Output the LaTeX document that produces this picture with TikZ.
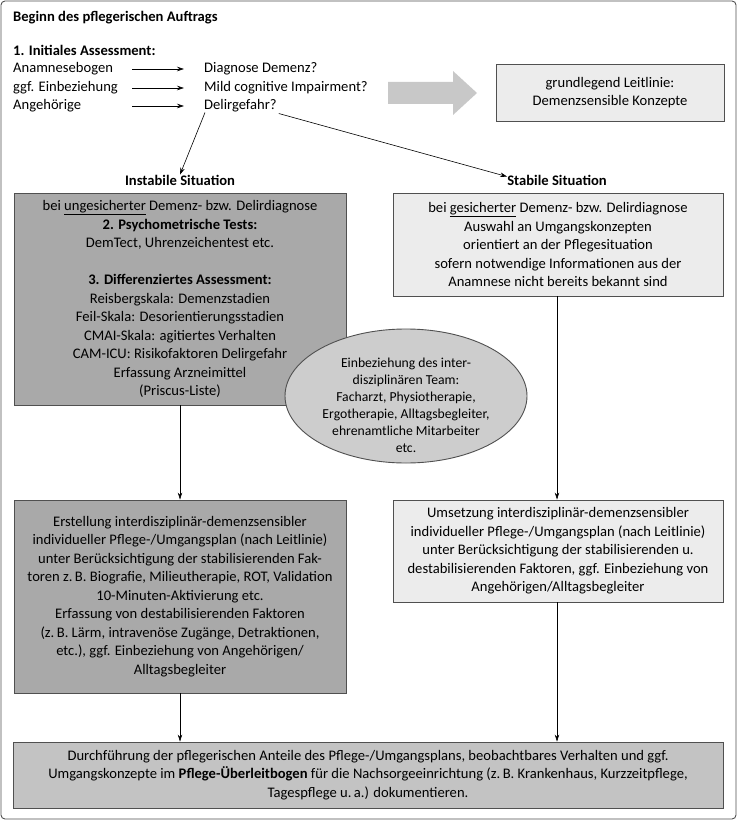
\documentclass[tikz,border=0pt]{standalone}
\usepackage{fontspec}
\setmainfont{Carlito}
\usetikzlibrary{arrows.meta,shapes.geometric,calc}
\definecolor{darkbox}{HTML}{A9A9A9}
\definecolor{lightbox}{HTML}{ECECEC}
\definecolor{ellfill}{HTML}{CDCDCD}
\definecolor{botfill}{HTML}{C3C3C3}
\definecolor{bigarrow}{HTML}{C8C8C8}
\definecolor{edge}{HTML}{505050}
\begin{document}
\begin{tikzpicture}[x=1pt,y=-1pt,
  every node/.style={font=\fontsize{14.6}{18.5}\selectfont},
  lbl/.style={anchor=west,inner sep=0pt},
  box/.style={draw=edge,line width=0.9pt,align=center,inner sep=0pt},
  arr/.style={-{Stealth[length=7pt,width=4.5pt]},line width=0.6pt},
  heading/.style={inner sep=0pt,font=\fontsize{14.6}{18.5}\selectfont\bfseries}]
\useasboundingbox (0,0) rectangle (738,821);
\draw[draw=edge,line width=0.9pt,rounded corners=4pt] (1,1) rectangle (736,819);

\node[lbl,font=\fontsize{14.6}{18.5}\selectfont\bfseries] (title) at (13,18) {Beginn des pflegerischen Auftrags};
\node[lbl,font=\fontsize{14.6}{18.5}\selectfont\bfseries] (ia) at (13,50) {1. Initiales Assessment:};
\node[lbl] (a1) at (13,69) {Anamnesebogen};
\node[lbl] (a2) at (13,88) {ggf. Einbeziehung};
\node[lbl] (a3) at (13,106) {Angehörige};
\node[lbl] (d1) at (204,69) {Diagnose Demenz?};
\node[lbl] (d2) at (204,88) {Mild cognitive Impairment?};
\node[lbl] (d3) at (204,106) {Delirgefahr?};
\coordinate (xa) at (132,0);
\coordinate (xb) at (184,0);
\foreach \i in {1,2,3}{\draw[arr] (a\i -| xa) -- (a\i -| xb);}

\fill[bigarrow] (388,82) -- (453,82) -- (453,71) -- (477,93) -- (453,115) -- (453,104) -- (388,104) -- cycle;
\node[box,fill=lightbox,minimum width=228,minimum height=57] (leit) at (610,92.5) {grundlegend Leitlinie:\\Demenzsensible Konzepte};

\node[heading] (inst) at (180,180) {Instabile Situation};
\node[heading] (stab) at (557,180) {Stabile Situation};
\draw[arr] ($(d3.south west)+(1,0)$) -- (inst.north);
\draw[arr] ($(d3.south east)+(2,1)$) -- ([yshift=-2pt]stab.north west);

\node[box,fill=darkbox,minimum width=332,minimum height=212] (lb1) at (180,299)
 {bei \underline{ungesicherter} Demenz- bzw. Delirdiagnose\\
  \textbf{2. Psychometrische Tests:}\\
  DemTect, Uhrenzeichentest etc.\\ ~\\
  \textbf{3. Differenziertes Assessment:}\\
  Reisbergskala: Demenzstadien\\
  Feil-Skala: Desorientierungsstadien\\
  CMAI-Skala: agitiertes Verhalten\\
  CAM-ICU: Risikofaktoren Delirgefahr\\
  Erfassung Arzneimittel\\
  (Priscus-Liste)};

\node[box,fill=lightbox,minimum width=330,minimum height=103] (rb1) at (558,244.5)
 {bei \underline{gesicherter} Demenz- bzw. Delirdiagnose\\
  Auswahl an Umgangskonzepten\\
  orientiert an der Pflegesituation\\
  sofern notwendige Informationen aus der\\
  Anamnese nicht bereits bekannt sind};

\node[box,fill=darkbox,minimum width=332,minimum height=193] (lb2) at (180,596.5)
 {Erstellung interdisziplinär-demenzsensibler\\
  individueller Pflege-/Umgangsplan (nach Leitlinie)\\
  unter Berücksichtigung der stabilisierenden Fak-\\
  toren z.\,B. Biografie, Milieutherapie, ROT, Validation\\
  10-Minuten-Aktivierung etc.\\
  Erfassung von destabilisierenden Faktoren\\
  (z.\,B. Lärm, intravenöse Zugänge, Detraktionen,\\
  etc.), ggf. Einbeziehung von Angehörigen/\\
  Alltagsbegleiter};

\node[box,fill=lightbox,minimum width=330,minimum height=102] (rb2) at (558,551)
 {Umsetzung interdisziplinär-demenzsensibler\\
  individueller Pflege-/Umgangsplan (nach Leitlinie)\\
  unter Berücksichtigung der stabilisierenden u.\\
  destabilisierenden Faktoren, ggf. Einbeziehung von\\
  Angehörigen/Alltagsbegleiter};

\node[box,fill=botfill,minimum width=710,minimum height=66] (bot) at (368,775)
 {Durchführung der pflegerischen Anteile des Pflege-/Umgangsplans, beobachtbares Verhalten und ggf.\\
  Umgangskonzepte im \textbf{Pflege-Überleitbogen} für die Nachsorgeeinrichtung (z.\,B. Krankenhaus, Kurzzeitpflege,\\
  Tagespflege u.\,a.) dokumentieren.};

\draw[arr] (lb1.south) -- (lb2.north);
\draw[arr] (rb1.south -| stab) -- (rb2.north -| stab);
\draw[arr] (lb2.south) -- (lb2.south |- bot.north);
\draw[arr] (rb2.south -| stab) -- (stab |- bot.north);

\node[ellipse,draw=edge,line width=0.9pt,fill=ellfill,minimum width=242,minimum height=134,inner sep=0pt] (team) at (406,396) {};
\node[align=center,inner sep=0pt,font=\fontsize{13.7}{17}\selectfont] (teamtext) at (406,405)
 {Einbeziehung des inter-\\
  disziplinären Team:\\
  Facharzt, Physiotherapie,\\
  Ergotherapie, Alltagsbegleiter,\\
  ehrenamtliche Mitarbeiter\\
  etc.};
\end{tikzpicture}
\end{document}
